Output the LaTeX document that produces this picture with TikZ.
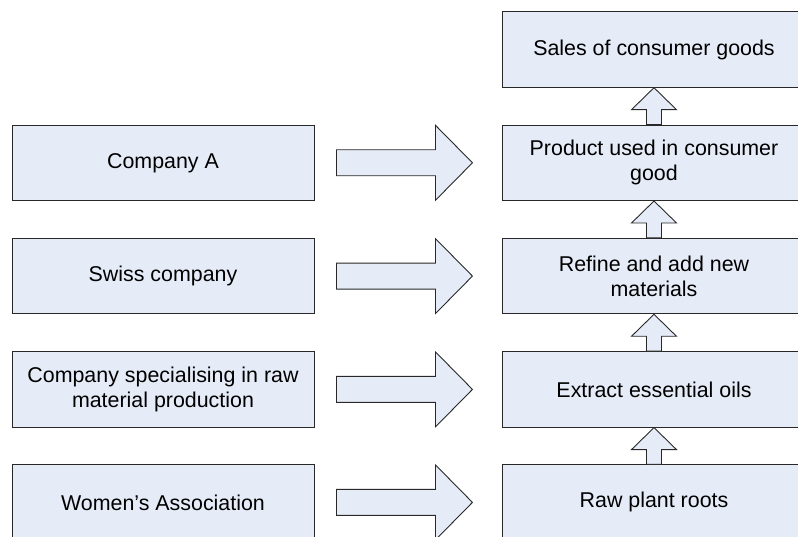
\documentclass[tikz,border=0pt]{standalone}
\usepackage{fontspec}
\setmainfont{Liberation Sans}
\usetikzlibrary{calc}
\definecolor{boxfill}{RGB}{230,236,247}
\definecolor{boxline}{RGB}{40,40,40}
\tikzset{
  card/.style={draw=boxline, fill=boxfill, line width=0.9pt, minimum width=302pt, minimum height=75.5pt, inner sep=0pt, align=center, font=\fontsize{21.4}{25}\selectfont},
  blk/.style={draw=boxline, fill=boxfill, line width=0.9pt, line join=miter}
}
\newcommand\harrow[1]{%
  \draw[blk] ($(#1.east)+(22,-13)$) -- ++(99,0) -- ++(0,-24.5) -- ($(#1.east)+(158,0)$) -- ($(#1.east)+(121,37.5)$) -- ++(0,-24.5) -- ($(#1.east)+(22,13)$) -- cycle;}
\newcommand\varrow[2]{%
  \draw[blk] (#1.south) -- ($(#1.south)+(22.5,22)$) -- ($(#1.south)+(7.5,22)$) -- ($(#2.north)+(7.5,0)$) -- ($(#2.north)+(-7.5,0)$) -- ($(#1.south)+(-7.5,22)$) -- ($(#1.south)+(-22.5,22)$) -- cycle;}
\begin{document}
\begin{tikzpicture}[x=1pt,y=-1pt]
\useasboundingbox (0,0) rectangle (798,537);
\clip (0,0) rectangle (798,537);
\node[card] (L1) at (163,162.8) {Company A};
\node[card] (L2) at (163,276.1) {Swiss company};
\node[card] (L3) at (163,389.4) {Company specialising in raw\\material production};
\node[card] (L4) at (163,502.4) {Women’s Association};
\node[card, minimum width=303pt] (R0) at (654,49.5) {Sales of consumer goods};
\node[card, minimum width=303pt] (R1) at (654,162.8) {Product used in consumer\\good};
\node[card, minimum width=303pt] (R2) at (654,276.1) {Refine and add new\\materials};
\node[card, minimum width=303pt] (R3) at (654,389.4) {Extract essential oils};
\node[card, minimum width=303pt] (R4) at (654,502.4) {Raw plant roots};
\harrow{L1}
\harrow{L2}
\harrow{L3}
\harrow{L4}
\varrow{R0}{R1}
\varrow{R1}{R2}
\varrow{R2}{R3}
\varrow{R3}{R4}
\end{tikzpicture}
\end{document}
